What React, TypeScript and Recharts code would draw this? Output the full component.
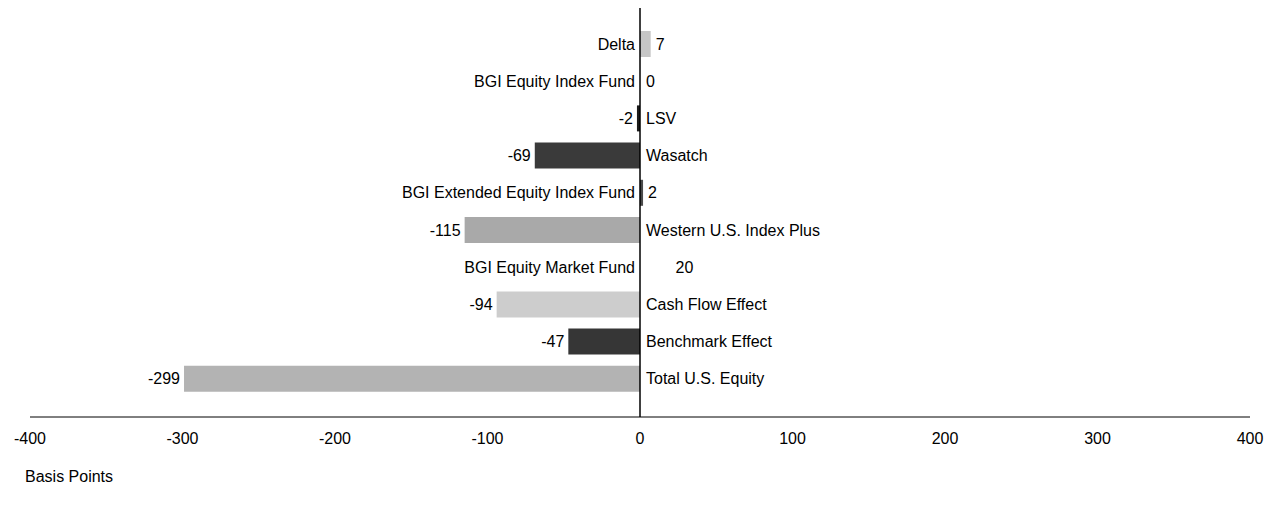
import { Bar, BarChart, Cell, Label, LabelList, ReferenceLine, XAxis, YAxis } from "recharts"

const categories = [
  "Delta",
  "BGI Equity Index Fund",
  "LSV",
  "Wasatch",
  "BGI Extended Equity Index Fund",
  "Western U.S. Index Plus",
  "BGI Equity Market Fund",
  "Cash Flow Effect",
  "Benchmark Effect",
  "Total U.S. Equity",
]
const values = [7, 0, -2, -69, 2, -115, 20, -94, -47, -299]
const xTicks = [-400, -300, -200, -100, 0, 100, 200, 300, 400]

const fills = ["#c6c6c6", "#ffffff", "#1a1a1a", "#3a3a3a", "#4a4a4a", "#a9a9a9", "#ffffff", "#cdcdcd", "#363636", "#b3b3b3"]

const data = categories.map((name, i) => ({ name, value: values[i] }))

const font = "'Liberation Sans', Arial, sans-serif"

// label lists get the category name; look the value up from it
function edges(props: any) {
  const v = values[categories.indexOf(props.value)]
  const x = Number(props.x)
  const w = Number(props.width)
  const lo = Math.min(x, x + w)
  const hi = Math.max(x, x + w)
  return { v, zero: v < 0 ? hi : lo, end: v < 0 ? lo : hi, cy: Number(props.y) + Number(props.height) / 2 }
}

function NameLabel(props: any) {
  const { v, zero, cy } = edges(props)
  const neg = v < 0
  return (
    <text x={neg ? zero + 6 : zero - 5} y={cy} textAnchor={neg ? "start" : "end"} dominantBaseline="central" fontSize={16} fontFamily={font} fill="#000">
      {props.value}
    </text>
  )
}

function ValueLabel(props: any) {
  const { v, end, cy } = edges(props)
  const neg = v < 0
  return (
    <text x={neg ? end - 4 : end + 5} y={cy} textAnchor={neg ? "end" : "start"} dominantBaseline="central" fontSize={16} fontFamily={font} fill="#000">
      {v}
    </text>
  )
}

export default function App() {
  return (
    <div style={{ position: "absolute", left: 0, top: 0, background: "#fff" }}>
      <BarChart width={1280} height={506} data={data} layout="vertical" margin={{ top: 8, right: 30, bottom: 19, left: 30 }}>
        <XAxis
          type="number"
          domain={[-400, 400]}
          ticks={xTicks}
          tickLine={false}
          tickMargin={10}
          height={70}
          axisLine={{ stroke: "#000", strokeWidth: 1 }}
          tick={{ fill: "#000", fontSize: 16, fontFamily: font }}
        >
          <Label value="Basis Points" position="insideBottomLeft" offset={5} dx={-10} fill="#000" fontSize={16} fontFamily={font} />
        </XAxis>
        <YAxis type="category" dataKey="name" hide padding={{ top: 17, bottom: 20 }} />
        <Bar dataKey="value" barSize={26} minPointSize={1} isAnimationActive={false}>
          {data.map((d, i) => (
            <Cell key={d.name} fill={fills[i]} />
          ))}
          <LabelList dataKey="name" content={NameLabel} />
          <LabelList dataKey="name" content={ValueLabel} />
        </Bar>
        <ReferenceLine x={0} stroke="#000" strokeWidth={1.5} />
      </BarChart>
    </div>
  )
}
